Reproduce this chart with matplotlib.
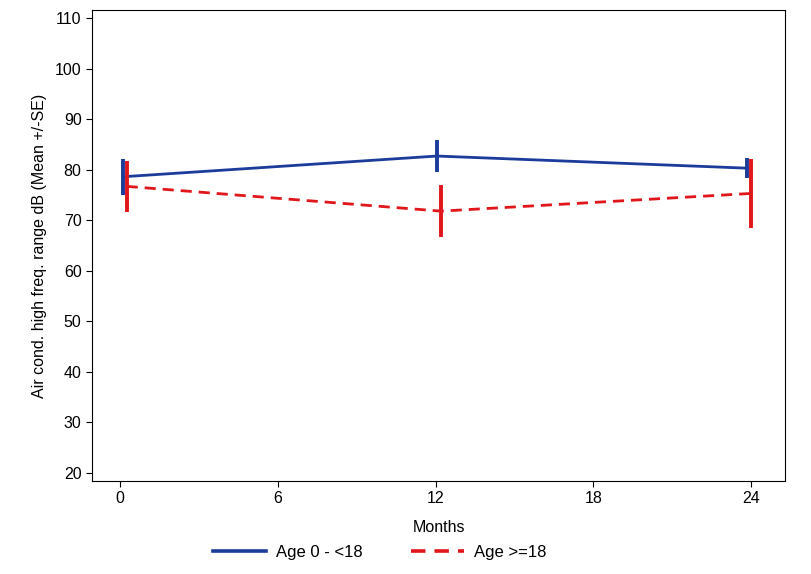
import numpy as np
import matplotlib
matplotlib.use("Agg")
import matplotlib.pyplot as plt

plt.rcParams['font.family'] = ['Liberation Sans', 'DejaVu Sans']

# data
months_young = [0.1, 12.05, 23.85]
mean_young = [78.6, 82.7, 80.3]
se_young = [3.6, 3.2, 2.0]

months_adult = [0.25, 12.2, 24.0]
mean_adult = [76.7, 71.8, 75.3]
se_adult = [5.0, 5.2, 6.8]

labels = ["Age 0 - <18", "Age >=18"]

fig = plt.figure(figsize=(8.11, 5.74), dpi=100)
ax = fig.add_axes([0.1134, 0.162, 0.855, 0.8206])

blue = '#1c3c9c'
red = '#e0161b'

ax.plot(months_young, mean_young, color=blue, lw=2, label=labels[0])
ax.errorbar(months_young, mean_young, yerr=se_young, fmt='none', ecolor=blue,
            elinewidth=2.8, capsize=0)
ax.plot(months_adult, mean_adult, color=red, lw=2, ls=(0, (4, 2.5)), label=labels[1])
ax.errorbar(months_adult, mean_adult, yerr=se_adult, fmt='none', ecolor=red,
            elinewidth=2.8, capsize=0)

ax.set_xlim(-1.07, 25.3)
ax.set_ylim(18.4, 111.6)
ax.set_xticks([0, 6, 12, 18, 24])
ax.set_yticks(np.arange(20, 111, 10))
ax.tick_params(labelsize=11.5, length=4, width=0.8, direction='out')
for s in ax.spines.values():
    s.set_linewidth(0.8)

ax.set_xlabel("Months", fontsize=11.5, labelpad=10)
ax.set_ylabel("Air cond. high freq. range dB (Mean +/-SE)", fontsize=11.5, labelpad=6)

leg = ax.legend(loc='center', bbox_to_anchor=(0.415, -0.151), ncol=2, frameon=False,
                fontsize=12, handlelength=3.2, handletextpad=0.6, columnspacing=2.9)
for h in leg.get_lines():
    h.set_linewidth(2.6)

fig.savefig("out.png", dpi=100)
